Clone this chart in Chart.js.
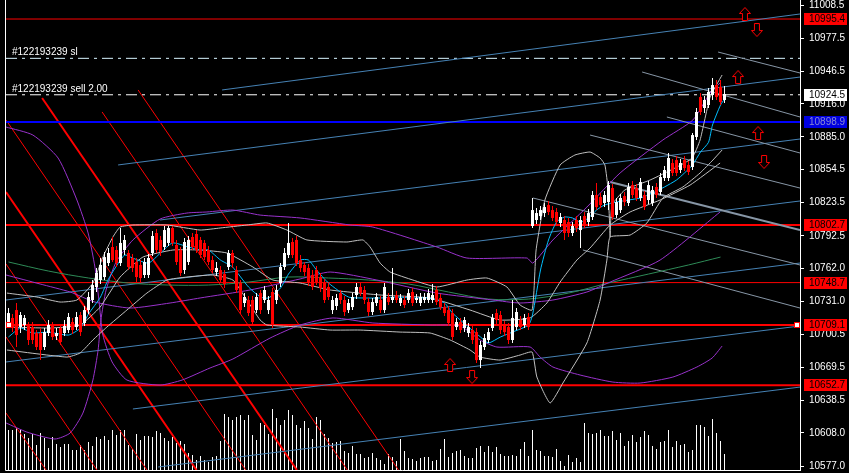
<!DOCTYPE html>
<html><head><meta charset="utf-8">
<script src="https://cdn.jsdelivr.net/npm/chart.js@4.4.1/dist/chart.umd.min.js"></script>
<style>html,body{margin:0;padding:0;background:#000;overflow:hidden}canvas{display:block}</style>
</head><body>
<canvas id="c" width="849" height="473"></canvas>
<script>
// ---------- DATA ----------
const opens=[10711.8,10715.6,10723.0,10707.1,10709.0,10709.0,10707.1,10701.5,10701.5,10688.4,
10701.5,10709.0,10698.7,10706.2,10701.5,10704.3,10711.8,10707.1,10718.4,10710.9,
10723.0,10732.4,10744.6,10751.1,10753.9,10767.0,10782.0,10779.2,10767.0,10779.2,
10776.4,10771.7,10768.0,10765.2,10755.8,10755.8,10776.4,10795.1,10788.6,10782.0,
10785.8,10799.8,10783.9,10779.2,10760.5,10768.0,10791.4,10794.2,10788.6,10785.8,
10779.2,10769.8,10758.6,10760.5,10756.7,10763.3,10776.4,10760.5,10748.3,10729.6,
10732.4,10732.4,10723.0,10738.9,10732.4,10723.0,10739.9,10732.4,10748.3,10763.3,
10774.5,10786.7,10788.6,10769.8,10765.2,10762.4,10755.8,10760.5,10753.9,10748.3,
10744.6,10723.0,10726.8,10738.9,10732.4,10723.0,10725.8,10737.1,10744.6,10741.8,
10730.5,10721.2,10729.6,10732.4,10723.0,10735.2,10732.4,10737.1,10729.6,10732.4,
10732.4,10739.9,10732.4,10729.6,10732.4,10732.4,10732.4,10741.8,10734.3,10725.8,
10723.0,10720.2,10707.1,10711.8,10706.2,10701.5,10704.3,10702.4,10676.2,10688.4,
10695.0,10706.2,10720.2,10718.4,10709.0,10707.1,10695.0,10707.1,10713.7,10709.0,
10716.5,10801.7,10807.3,10811.0,10813.8,10821.3,10816.6,10814.8,10804.5,10807.3,
10805.4,10795.1,10807.3,10797.9,10811.0,10805.4,10810.1,10830.7,10828.8,10823.2,
10824.1,10837.2,10812.0,10816.6,10829.7,10823.2,10840.0,10837.2,10827.9,10830.7,
10826.0,10823.2,10838.2,10833.5,10846.6,10846.6,10860.6,10863.4,10854.1,10863.4,
10858.8,10856.9,10885.0,10922.4,10912.1,10914.9,10924.3,10933.6,10931.8,10919.6];
const highs=[10724.9,10719.3,10729.6,10721.2,10718.4,10711.8,10711.8,10704.3,10706.2,10706.2,
10713.7,10711.8,10706.2,10709.0,10713.7,10720.2,10715.6,10721.2,10721.2,10726.8,
10739.9,10751.1,10762.4,10771.7,10777.3,10781.1,10791.4,10782.9,10799.8,10793.2,
10779.2,10775.5,10771.7,10769.8,10771.7,10775.5,10797.0,10798.9,10792.3,10801.7,
10801.7,10801.7,10788.6,10782.0,10790.4,10792.3,10795.1,10797.9,10791.4,10788.6,
10782.9,10773.6,10768.0,10764.2,10760.5,10779.2,10779.2,10764.2,10751.1,10738.9,
10736.1,10736.1,10738.9,10741.8,10745.5,10736.1,10743.6,10746.4,10767.0,10781.1,
10804.5,10790.4,10792.3,10774.5,10768.0,10766.1,10760.5,10764.2,10757.7,10752.1,
10748.3,10736.1,10738.0,10741.8,10736.1,10733.3,10738.9,10748.3,10748.3,10745.5,
10734.3,10734.3,10738.9,10736.1,10748.3,10738.9,10762.4,10740.8,10738.0,10736.1,
10742.7,10743.6,10738.0,10738.9,10738.9,10742.7,10747.4,10745.5,10738.0,10729.6,
10726.8,10724.0,10715.6,10715.6,10716.5,10710.9,10708.1,10706.2,10694.0,10700.6,
10706.2,10719.3,10724.0,10722.1,10712.7,10710.9,10732.4,10724.9,10717.4,10719.3,
10720.2,10827.9,10818.5,10820.4,10823.2,10825.1,10820.4,10818.5,10813.8,10811.0,
10809.2,10805.4,10811.0,10811.0,10814.8,10817.6,10834.4,10841.9,10832.6,10834.4,
10843.8,10841.0,10827.9,10831.6,10833.5,10841.9,10843.8,10841.0,10846.6,10834.4,
10843.8,10839.1,10841.9,10851.3,10857.8,10870.0,10864.4,10867.2,10864.4,10867.2,
10862.5,10888.7,10912.1,10926.2,10923.3,10930.8,10940.2,10938.3,10938.3,10932.7];
const lows=[10706.2,10702.4,10688.4,10701.5,10704.3,10690.3,10691.2,10685.6,10676.2,10685.6,
10698.7,10695.0,10695.0,10690.3,10698.7,10701.5,10700.6,10704.3,10698.7,10708.1,
10719.3,10729.6,10739.9,10747.4,10751.1,10764.2,10768.0,10763.3,10764.2,10774.5,
10760.5,10758.6,10749.2,10748.3,10753.0,10753.0,10773.6,10776.4,10773.6,10779.2,
10782.9,10782.9,10765.2,10754.9,10756.7,10765.2,10779.2,10776.4,10771.7,10769.8,
10765.2,10757.7,10754.9,10748.3,10743.6,10760.5,10762.4,10738.9,10719.3,10725.8,
10717.4,10709.0,10720.2,10719.3,10729.6,10719.3,10706.2,10728.7,10744.6,10760.5,
10771.7,10771.7,10764.2,10758.6,10754.9,10745.5,10741.8,10746.4,10739.9,10729.6,
10732.4,10719.3,10723.0,10728.7,10717.4,10720.2,10723.0,10733.3,10736.1,10728.7,
10717.4,10718.4,10726.8,10720.2,10720.2,10727.7,10729.6,10729.6,10726.8,10724.9,
10729.6,10726.8,10729.6,10726.8,10729.6,10729.6,10729.6,10727.7,10723.0,10717.4,
10708.1,10695.0,10704.3,10701.5,10702.4,10697.8,10691.2,10673.4,10668.7,10685.6,
10692.2,10703.4,10709.9,10700.6,10698.7,10691.2,10692.2,10704.3,10704.3,10706.2,
10704.3,10799.8,10803.5,10807.3,10810.1,10812.0,10806.3,10802.6,10800.7,10788.6,
10791.4,10792.3,10796.0,10781.1,10799.8,10801.7,10807.3,10816.6,10818.5,10819.4,
10816.6,10807.3,10809.2,10813.8,10820.4,10820.4,10827.9,10825.1,10825.1,10816.6,
10822.3,10820.4,10827.9,10830.7,10843.8,10843.8,10848.5,10848.5,10851.3,10853.1,
10849.4,10854.1,10882.2,10905.6,10907.4,10912.1,10919.6,10919.6,10914.9,10916.8];
const closes=[10720.2,10706.2,10699.6,10718.4,10715.6,10695.0,10695.0,10688.4,10685.6,10702.4,
10709.0,10697.8,10701.5,10693.1,10708.1,10716.5,10704.3,10716.5,10702.4,10723.0,
10735.2,10746.4,10757.7,10765.2,10772.6,10776.4,10769.8,10767.0,10785.8,10788.6,
10763.3,10762.4,10753.9,10753.0,10768.0,10771.7,10792.3,10779.2,10777.3,10797.9,
10799.8,10785.8,10768.0,10757.7,10786.7,10788.6,10782.0,10779.2,10774.5,10772.6,
10768.0,10760.5,10762.4,10751.1,10747.4,10776.4,10767.0,10741.8,10723.0,10735.2,
10720.2,10711.8,10735.2,10723.0,10741.8,10732.4,10709.0,10741.8,10763.3,10776.4,
10785.8,10774.5,10767.0,10762.4,10758.6,10748.3,10744.6,10749.2,10743.6,10732.4,
10735.2,10732.4,10734.3,10732.4,10721.2,10729.6,10735.2,10744.6,10738.9,10732.4,
10721.2,10730.5,10735.2,10723.0,10744.6,10730.5,10735.2,10732.4,10734.3,10727.7,
10738.9,10729.6,10734.3,10735.2,10735.2,10738.9,10737.1,10730.5,10725.8,10720.2,
10710.9,10697.8,10711.8,10704.3,10713.7,10707.1,10695.0,10676.2,10690.3,10696.8,
10702.4,10715.6,10713.7,10704.3,10702.4,10695.0,10715.6,10721.2,10707.1,10715.6,
10707.1,10816.6,10813.8,10816.6,10819.4,10814.8,10809.2,10805.4,10810.1,10795.1,
10795.1,10801.7,10799.8,10807.3,10803.5,10813.8,10830.7,10819.4,10821.3,10830.7,
10840.0,10810.1,10824.1,10827.9,10824.1,10838.2,10830.7,10827.9,10842.8,10819.4,
10840.0,10835.4,10830.7,10847.5,10854.1,10865.3,10851.3,10851.3,10860.6,10855.9,
10852.2,10886.8,10908.4,10908.4,10919.6,10927.1,10933.6,10922.4,10917.7,10925.2];
const volumes=[400,400,420,400,360,320,360,250,370,320,
220,330,260,230,260,260,200,200,250,200,
280,240,330,310,340,300,400,350,400,400,
250,210,360,300,340,340,330,390,370,320,
290,330,270,290,260,170,150,100,140,100,
80,130,140,290,560,530,500,530,550,500,
550,350,300,470,450,360,610,520,450,500,
600,550,450,420,490,420,310,530,500,360,
320,270,280,290,190,170,240,160,160,120,
130,170,120,100,60,160,130,90,310,190,
120,110,90,120,130,130,90,100,210,310,
130,170,190,200,140,120,120,220,240,180,
240,180,230,160,140,140,150,140,210,280,
140,400,200,190,140,140,130,210,90,40,
150,80,120,80,470,370,360,370,400,340,
340,390,300,370,240,290,350,280,330,390,
350,240,210,280,290,400,230,290,250,260,
180,200,450,450,430,340,510,370,290,160];

const yTicks=[11008.5,10977.5,10946.5,10916.0,10885.0,10854.5,10823.5,10792.5,10762.0,10731.0,10700.5,10669.5,10638.5,10608.0,10577.0];

// indicator readings: [bar, price]
const fastMA=[[0,10697.8],[3,10706.2],[6,10701.5],[10,10702.4],[15,10699.6],[18,10706.2],[20,10719.3],[23,10735.2],[25,10752.1],[29,10774.5],[31,10771.7],[35,10767.0],[38,10776.4],[41,10785.8],[45,10782.0],[48,10779.2],[50,10779.2],[53,10769.8],[56,10763.3],[60,10744.6],[63,10735.2],[65,10734.3],[68,10743.6],[70,10756.7],[73,10769.8],[75,10769.8],[77,10760.5],[80,10748.3],[85,10735.2],[89,10734.3],[93,10734.3],[97,10735.2],[101,10734.3],[105,10734.3],[109,10729.6],[111,10720.2],[115,10707.1],[118,10697.8],[120,10692.2],[123,10697.8],[126,10702.4],[130,10709.0],[131,10718.4],[133,10760.5],[135,10788.6],[137,10805.4],[139,10810.1],[141,10809.2],[143,10805.4],[145,10809.2],[147,10816.6],[149,10821.3],[152,10824.1],[155,10826.0],[158,10827.9],[161,10832.6],[164,10838.2],[167,10844.7],[169,10851.3],[171,10858.8],[173,10870.9],[175,10880.0],[176,10896.2],[178,10914.9],[179,10920.5]];
const slowMA=[[0,10768.0],[10,10759.5],[20,10753.0],[30,10748.3],[40,10746.4],[50,10746.4],[60,10749.2],[70,10753.9],[80,10753.0],[90,10751.1],[100,10747.4],[110,10739.9],[120,10733.3],[130,10733.3],[140,10738.9],[150,10748.3],[160,10756.7],[170,10765.2],[178,10772.6]];
const bbUpper=[[-0.4,10738.9],[7.1,10735.2],[12.9,10730.5],[17.1,10732.4],[21.1,10748.3],[23.6,10772.6],[26.1,10791.4],[27.9,10800.7],[31.1,10802.6],[39.6,10802.6],[47.9,10797.9],[52.9,10799.8],[59.6,10802.6],[64.6,10804.5],[69.6,10797.9],[74.6,10788.6],[84.6,10786.7],[88.6,10788.6],[90.4,10782.0],[92.9,10767.0],[95.4,10758.6],[101.1,10751.1],[107.1,10744.6],[114.6,10751.1],[119.6,10753.0],[124.6,10744.6],[127.9,10727.7],[130.9,10723.0],[131.9,10779.2],[134.1,10826.0],[137.9,10858.8],[141.6,10868.1],[145.4,10870.9],[147.9,10865.3],[149.1,10858.8],[149.9,10835.4],[150.4,10791.4]];
const bbLower=[[-0.4,10685.6],[14.6,10679.0],[17.9,10682.8],[21.1,10695.0],[24.6,10707.1],[29.6,10723.0],[34.6,10738.9],[39.6,10751.1],[44.6,10753.9],[51.1,10755.8],[56.1,10751.1],[59.6,10732.4],[62.9,10713.7],[64.6,10709.0],[72.9,10707.1],[80.4,10704.3],[87.9,10704.3],[97.9,10702.4],[105.4,10701.5],[110.4,10695.0],[115.4,10685.6],[117.9,10679.0],[122.9,10676.2],[127.9,10680.9],[130.9,10683.7],[132.1,10660.3],[135.4,10636.0],[138.6,10654.7],[144.6,10692.2],[147.9,10732.4],[149.6,10769.8],[150.4,10791.4],[155.4,10793.2],[159.6,10804.5],[163.6,10827.9],[168.6,10838.2],[172.9,10851.3],[176.1,10863.4],[178.4,10872.8]];
const bbUpperLate=[[150.4,10791.4],[150.9,10821.3],[154.1,10835.4],[160.4,10844.7],[166.6,10855.9],[170.9,10865.3],[172.9,10882.2],[175.4,10922.4],[178.4,10943.0]];
const bbMiddle=[[-0.4,10707.1],[10.4,10706.2],[17.9,10709.0],[22.9,10725.8],[27.9,10753.9],[33.6,10772.6],[41.1,10779.2],[47.9,10779.2],[54.6,10776.4],[61.1,10763.3],[66.1,10751.1],[72.9,10748.3],[80.4,10741.8],[92.9,10737.1],[105.4,10734.3],[115.4,10723.0],[122.9,10713.7],[130.4,10715.6],[134.6,10729.6],[137.9,10749.2],[142.1,10769.8],[145.4,10781.1],[150.4,10802.6],[155.4,10814.8],[162.9,10826.0],[170.4,10840.0],[177.9,10860.6]];
const envA=[[-0.6,10894.3],[6.1,10886.8],[12.4,10865.3],[17.1,10826.0],[19.9,10795.1],[21.6,10763.3],[22.6,10732.4],[23.6,10699.6],[25.9,10674.4],[29.6,10657.5],[37.9,10652.8],[43.4,10657.5],[50.4,10668.8],[56.1,10677.2],[65.4,10696.8],[72.9,10709.0],[81.1,10715.6],[91.1,10710.9],[105.4,10709.0],[112.9,10708.1],[117.9,10695.0],[122.1,10688.4],[130.4,10688.4],[132.9,10679.0],[136.1,10669.7],[142.9,10662.2],[151.1,10655.6],[157.9,10654.7],[166.1,10660.3],[172.1,10669.7],[175.9,10678.1],[178.4,10689.3]];
const envB=[[-0.6,10617.3],[4.6,10608.8],[11.6,10602.3],[15.4,10607.9],[18.6,10626.6],[21.1,10657.5],[22.4,10685.6],[23.1,10713.7],[24.4,10741.8],[26.9,10768.0],[31.1,10788.6],[37.9,10808.2],[44.6,10813.8],[49.6,10814.8],[56.1,10816.6],[62.9,10811.9],[72.9,10809.2],[85.4,10802.6],[91.1,10800.7],[107.1,10782.0],[114.6,10771.7],[129.6,10771.7],[131.1,10767.0],[136.1,10788.6],[144.6,10819.4],[152.9,10851.3],[163.6,10882.2],[171.1,10900.9],[175.4,10926.2],[177.9,10935.5]];
const envMid=[[-0.6,10755.8],[7.9,10747.4],[15.4,10739.9],[21.6,10730.5],[30.4,10724.9],[40.4,10729.6],[47.9,10734.3],[60.4,10741.8],[72.9,10752.1],[80.4,10758.6],[92.1,10751.1],[107.1,10738.9],[121.1,10732.4],[127.9,10729.6],[136.1,10732.4],[144.6,10739.9],[150.4,10749.2],[162.9,10769.8],[177.9,10814.8]];

// price levels / orders
const levelPrices=[10995.4,10958.6,10924.5,10898.9,10802.7,10748.7,10709.1,10652.7];
const orderTexts=['#122193239 sl','#122193239 sell 2.00'];
const orderPrices=[10958.6,10924.5];
const boxPrices=[10995.4,10924.5,10898.9,10802.7,10748.7,10709.1,10652.7];

// trend lines (bar, price)
const chanStartBar=[53.4,27.4,37.9,-0.625,-0.625,31.1,37.4];
const chanStartPrice=[10929.0,10858.8,10807.3,10732.4,10674.4,10630.4,10576.1];
const chanEndPrice=[11000.1,10941.1,10883.1,10825.1,10767.0,10708.1,10650.9];
const fanStartBar=[-0.625,8.4,23.4,32.4,-0.625,-0.625,-0.625,-0.625];
const fanStartPrice=[10900.9,10921.5,10908.4,10929.0,10833.5,10766.1,10697.8,10626.6];
const fanEndBar=[59.3,72.1,84.7,97.5,47.0,34.6,22.1,9.4];
const slateStartBar=[177.4,158.4,164.6,145.4,150.4,131.1,143.6];
const slateStartPrice=[10964.5,10945.8,10903.7,10886.8,10842.8,10827.9,10779.2];
const slateEndPrice=[10944.9,10903.7,10870.0,10837.2,10797.9,10765.2,10724.9];

// arrows
const arrowBars=[184.1,187.1,182.4,187.4,188.9,110.4,115.9];
const arrowPrices=[11000.1,10985.1,10941.1,10888.7,10861.6,10671.6,10660.3];
const arrowUp=[true,false,true,true,false,true,false];

// ---------- BUILD ----------
const X_MIN=-0.625, X_MAX=197.875, Y_MIN=10573.3, Y_MAX=11013.2;
const pts=a=>a.map(p=>({x:p[0],y:p[1]}));
const seg=(x1,y1,x2,y2)=>[{x:x1,y:y1},{x:x2,y:y2}];
const bull=closes.map((c,i)=>c>=opens[i]);
const cCol=bull.map(b=>b?'#ffffff':'#ff0000');

function lineDs(data,color,width,order,opt){
  return Object.assign({type:'line',data,borderColor:color,borderWidth:width,pointRadius:0,
    fill:false,tension:0,order,yAxisID:'y',spanGaps:true},opt||{});
}
function makeArrow(up){
  const c=document.createElement('canvas');c.width=12;c.height=14;
  const g=c.getContext('2d');g.translate(0.5,0.5);g.beginPath();
  if(up){g.moveTo(5.5,0);g.lineTo(11,6);g.lineTo(8,6);g.lineTo(8,13);g.lineTo(3,13);g.lineTo(3,6);g.lineTo(0,6);}
  else{g.moveTo(5.5,13);g.lineTo(11,7);g.lineTo(8,7);g.lineTo(8,0);g.lineTo(3,0);g.lineTo(3,7);g.lineTo(0,7);}
  g.closePath();g.fillStyle='#000';g.fill();g.strokeStyle='#ff0000';g.lineWidth=1;g.stroke();
  return c;
}
const upImg=makeArrow(true), dnImg=makeArrow(false);

const datasets=[];
datasets.push({type:'scatter',data:arrowBars.map((b,k)=>({x:b,y:arrowPrices[k]})),
  pointStyle:arrowUp.map(u=>u?upImg:dnImg),pointRadius:6,order:0,yAxisID:'y'});
datasets.push({type:'bar',data:closes.map((c,i)=>({x:i,y:[opens[i],c]})),backgroundColor:cCol,
  barThickness:3,grouped:false,minBarLength:1,borderWidth:0,inflateAmount:0,order:1,yAxisID:'y'});
datasets.push({type:'bar',data:closes.map((c,i)=>({x:i,y:[lows[i],highs[i]]})),backgroundColor:cCol,
  barThickness:1,grouped:false,borderWidth:0,inflateAmount:0,order:2,yAxisID:'y'});
datasets.push({type:'bar',data:volumes.map((v,i)=>({x:i,y:v})),backgroundColor:'#ffffff',
  barThickness:1,grouped:false,borderWidth:0,inflateAmount:0,order:30,yAxisID:'vol'});

datasets.push(lineDs(pts(fastMA),'#00bfff',1,5,{tension:0.2}));
datasets.push(lineDs(pts(slowMA),'#2e8b57',1,9,{tension:0.3}));
[bbUpper,bbLower,bbUpperLate,bbMiddle].forEach(a=>datasets.push(lineDs(pts(a),'#c0c0c0',1,7,{tension:0.15})));
[envA,envB,envMid].forEach(a=>datasets.push(lineDs(pts(a),'#9932cc',1,8,{tension:0.2})));

const lvStyle=[
  {c:'#ff0000',w:1},{c:'#d8f4ff',w:1,d:[11,5,3,5]},{c:'#ffffff',w:1,d:[11,5,3,5]},{c:'#0000ff',w:2},
  {c:'#ff0000',w:2},{c:'#ff0000',w:1},{c:'#ff0000',w:2},{c:'#ff0000',w:2}];
levelPrices.forEach((p,k)=>{const s=lvStyle[k];
  datasets.push(lineDs(seg(X_MIN,p,X_MAX,p),s.c,s.w,12,s.d?{borderDash:s.d}:{}));});
chanStartBar.forEach((b,k)=>datasets.push(lineDs(seg(b,chanStartPrice[k],X_MAX,chanEndPrice[k]),'#4682b4',1,11)));
fanStartBar.forEach((b,k)=>datasets.push(lineDs(seg(b,fanStartPrice[k],fanEndBar[k],Y_MIN),'#ff0000',(k===1||k===4)?2:1,13)));
slateStartBar.forEach((b,k)=>datasets.push(lineDs(seg(b,slateStartPrice[k],X_MAX,slateEndPrice[k]),'#8796a6',k===4?2:1,10)));

const boxStyle=[
  {bg:'#ff0000',fg:'#000'},{bg:'#ffffff',fg:'#000'},{bg:'#0000e0',fg:'#8a8ad0'},
  {bg:'#ff0000',fg:'#000'},{bg:'#ff0000',fg:'#000'},{bg:'#ff0000',fg:'#000'},{bg:'#ff0000',fg:'#000'}];
const FONT='"Liberation Sans", Arial, sans-serif';

const framePlugin={
  id:'frame',
  beforeDraw(chart){const g=chart.ctx;g.save();g.fillStyle='#000';g.fillRect(0,0,chart.width,chart.height);g.restore();},
  afterDraw(chart){
    const g=chart.ctx,a=chart.chartArea,y=chart.scales.y;
    g.save();
    g.strokeStyle='#ffffff';g.lineWidth=1;
    g.beginPath();g.moveTo(a.left-0.5,0);g.lineTo(a.left-0.5,a.bottom+0.5);g.lineTo(a.right,a.bottom+0.5);g.stroke();
    g.font='10px '+FONT;g.fillStyle='#ffffff';g.textAlign='left';g.textBaseline='alphabetic';
    orderTexts.forEach((t,k)=>g.fillText(t,a.left+6,Math.round(y.getPixelForValue(orderPrices[k]))-3));
    g.font='10px '+FONT;g.textBaseline='middle';
    boxPrices.forEach((p,k)=>{const py=Math.round(y.getPixelForValue(p));const s=boxStyle[k];
      g.fillStyle=s.bg;g.fillRect(a.right+4,py-6,43,12);
      g.fillStyle=s.fg;g.fillText(p.toFixed(1),a.right+9,py+0.5);});
    const hy=Math.round(y.getPixelForValue(levelPrices[6]));
    [a.left+3,a.right-3].forEach(hx=>{g.fillStyle='#ffffff';g.fillRect(hx-2,hy-2,4,4);
      g.strokeStyle='#ff0000';g.strokeRect(hx-2.5,hy-2.5,5,5);});
    g.restore();
  }
};
const noPad=s=>{s.paddingTop=0;s.paddingBottom=0;s.paddingLeft=0;s.paddingRight=0;};

new Chart(document.getElementById('c'),{
  type:'bar',
  data:{datasets},
  options:{
    responsive:false,animation:false,devicePixelRatio:1,events:[],
    layout:{autoPadding:false,padding:{left:6,right:0,top:0,bottom:3}},
    plugins:{legend:{display:false},tooltip:{enabled:false}},
    scales:{
      x:{type:'linear',min:X_MIN,max:X_MAX,display:false,offset:false,grid:{offset:false},ticks:{display:false},afterFit:noPad},
      vol:{type:'linear',min:0,max:4700,display:false,ticks:{display:false},afterFit:noPad},
      y:{type:'linear',position:'right',min:Y_MIN,max:Y_MAX,
        afterBuildTicks:s=>{s.ticks=yTicks.map(v=>({value:v}));},
        afterFit:s=>{s.width=49;noPad(s);},
        ticks:{color:'#ffffff',autoSkip:false,padding:5,font:{family:FONT,size:10},callback:v=>Number(v).toFixed(1)},
        grid:{drawOnChartArea:false,drawTicks:true,tickLength:4,color:'#ffffff'},
        border:{display:true,color:'#ffffff'}
      }
    }
  },
  plugins:[framePlugin]
});
</script>
</body></html>
